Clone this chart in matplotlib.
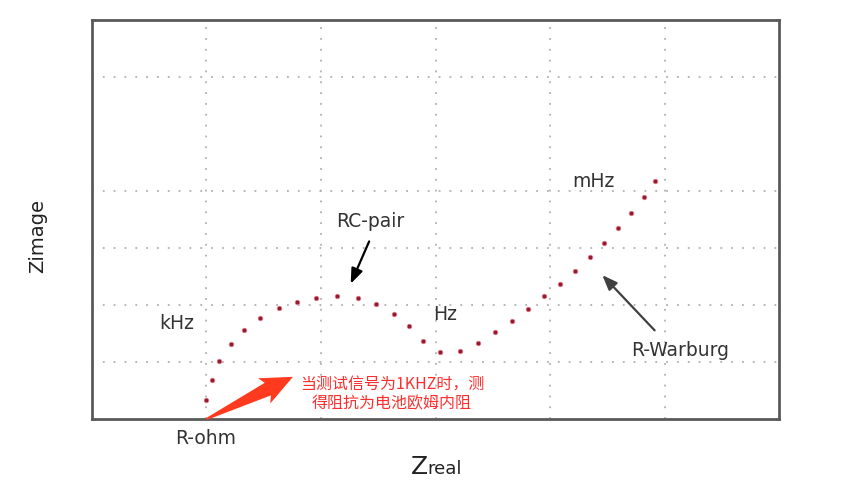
import numpy as np
import matplotlib.pyplot as plt
from matplotlib.patches import Polygon

plt.rcParams['font.family'] = ['DejaVu Sans', 'Noto Sans CJK SC']

# Nyquist curve (arbitrary units)
z_real = [1.00, 1.05, 1.11, 1.21, 1.33, 1.47, 1.63, 1.79, 1.96, 2.14,
          2.32, 2.48, 2.64, 2.77, 2.89, 3.04, 3.21, 3.37, 3.52, 3.67,
          3.81, 3.95, 4.09, 4.22, 4.35, 4.47, 4.59, 4.71, 4.82, 4.92]
z_imag = [0.33, 0.68, 1.01, 1.32, 1.57, 1.78, 1.95, 2.05, 2.12, 2.15,
          2.12, 2.02, 1.85, 1.63, 1.37, 1.18, 1.19, 1.34, 1.52, 1.72,
          1.93, 2.15, 2.37, 2.60, 2.84, 3.09, 3.35, 3.61, 3.90, 4.18]
x_grid = [1, 2, 3, 4, 5]
y_grid = [1, 2, 3, 4, 6]

fig = plt.figure(figsize=(8.58, 4.98), dpi=100)
ax = fig.add_axes([0.1072, 0.1586, 0.8008, 0.8012])
ax.set_xlim(0, 6)
ax.set_ylim(0, 7)
ax.set_xticks(x_grid)
ax.set_yticks(y_grid)
ax.tick_params(length=0, labelbottom=False, labelleft=False)
ax.grid(True, color='#b0b0b0', linestyle=(0, (1, 5)), linewidth=1.3)
for s in ax.spines.values():
    s.set_color('#5a5a5a')
    s.set_linewidth(2)

ax.plot(z_real, z_imag, 'o', ms=3.2, mfc='#8e1a2c', mec='#e07080', mew=0.6, zorder=3)

# labels
lab = dict(fontsize=13.5, color='#333333', ha='center', va='center')
ax.text(0.74, 1.67, 'kHz', **lab)
ax.text(3.08, 1.83, 'Hz', **lab)
ax.text(4.38, 4.16, 'mHz', **lab)
ax.text(2.43, 3.46, 'RC-pair', **lab)
ax.text(5.14, 1.21, 'R-Warburg', **lab)
ax.text(0.99, -0.35, 'R-ohm', clip_on=False, **lab)

ax.annotate('', xy=(2.25, 2.33), xytext=(2.43, 3.16),
            arrowprops=dict(arrowstyle='-|>,head_width=0.35,head_length=0.9',
                            color='black', lw=1.6))
ax.annotate('', xy=(4.44, 2.56), xytext=(4.93, 1.52),
            arrowprops=dict(arrowstyle='-|>,head_width=0.35,head_length=0.9',
                            color='#404040', lw=1.6))

# red note
ax.text(2.62, 0.44, '当测试信号为1KHZ时，测\n得阻抗为电池欧姆内阻', fontsize=11.5,
        color='#ff2e2e', ha='center', va='center', linespacing=1.2,
        family=['Noto Sans CJK SC', 'DejaVu Sans'])

# tapered red arrow, shaped in pixels then mapped to data units
px_x, px_y = 114.5, 57.0           # pixels per data unit
tail = np.array([1.00, 0.0])
tip = np.array([1.755, 0.74])
d = (tip - tail) * [px_x, px_y]
L = np.hypot(*d)
u = d / L
n = np.array([-u[1], u[0]])
hl, hw, bw = 28, 14.0, 7.0
pts = [n * 1.0, u * (L - hl) + n * bw, u * (L - hl - 4) + n * hw, u * L,
       u * (L - hl - 4) - n * hw, u * (L - hl) - n * bw, -n * 1.0]
pts = [tail + p / [px_x, px_y] for p in pts]
ax.add_patch(Polygon(pts, closed=True, color='#ff3a1e', lw=0, clip_on=False, zorder=4))

# axis titles
fig.text(428 / 858, 1 - 467 / 498, 'Z', fontsize=18, color='#222222', ha='right', va='center')
fig.text(427 / 858, 1 - 469 / 498, 'real', fontsize=13, color='#222222', ha='left', va='center')
fig.text(38 / 858, 1 - 236 / 498, 'Zimage', fontsize=14, color='#222222', ha='center',
         va='center', rotation=90)

fig.savefig('out.png', dpi=100)
